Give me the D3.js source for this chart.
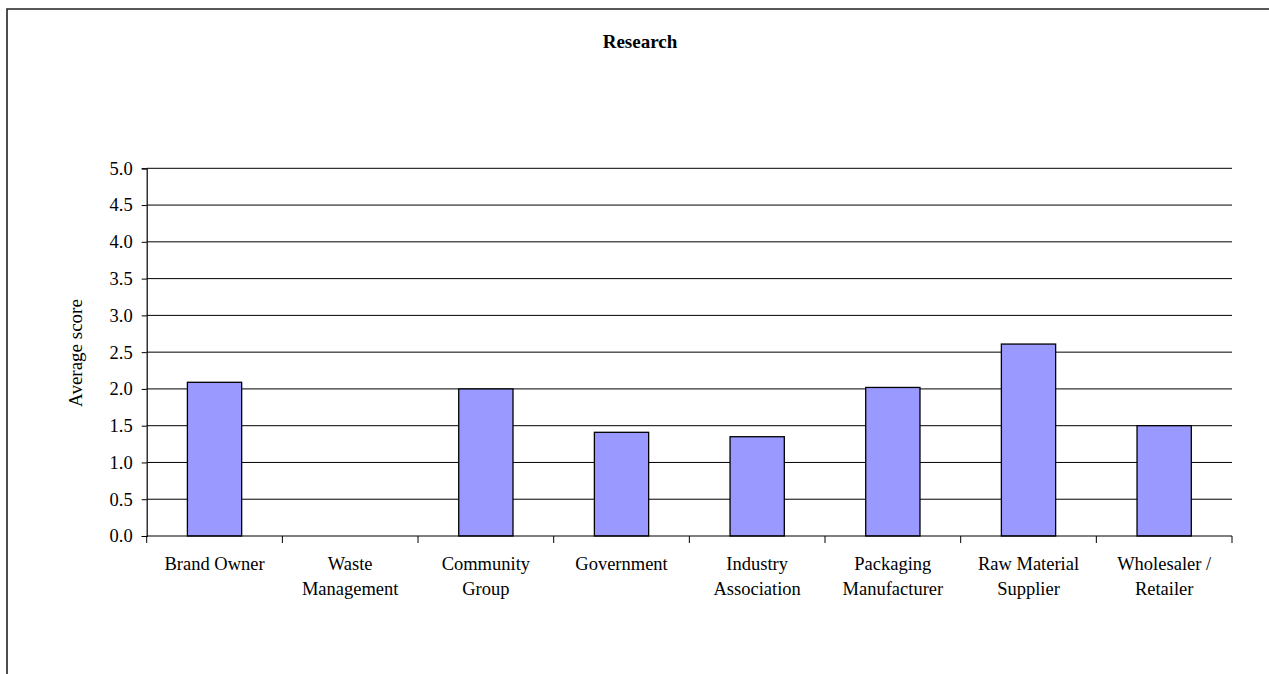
<!DOCTYPE html>
<html>
<head>
<meta charset="utf-8">
<script src="https://cdn.jsdelivr.net/npm/d3@7"></script>
<style>
  html, body { margin: 0; padding: 0; background: #fff; }
  svg { display: block; }
  text { font-family: "Liberation Serif", "Times New Roman", serif; fill: #000; }
</style>
</head>
<body>
<script>
// Average score per stakeholder group for "Research"
const categories = [
  "Brand Owner", "Waste Management", "Community Group", "Government",
  "Industry Association", "Packaging Manufacturer", "Raw Material Supplier",
  "Wholesaler / Retailer"
];
const categoryLines = [
  ["Brand Owner"], ["Waste", "Management"], ["Community", "Group"], ["Government"],
  ["Industry", "Association"], ["Packaging", "Manufacturer"], ["Raw Material", "Supplier"],
  ["Wholesaler /", "Retailer"]
];
const scores = [2.09, 0, 2.0, 1.41, 1.35, 2.02, 2.61, 1.5];
const yTicks = [0, 0.5, 1, 1.5, 2, 2.5, 3, 3.5, 4, 4.5, 5];

const W = 1269, H = 674;
const plot = { left: 146.7, right: 1232, top: 168.3, bottom: 536 };

const svg = d3.select("body").append("svg")
  .attr("width", W).attr("height", H);

// chart frame (left and top edges visible in the window)
svg.append("path")
  .attr("d", `M7,${H + 2} V9 H${W + 2}`)
  .attr("fill", "none").attr("stroke", "#222").attr("stroke-width", 1.6);

const x = d3.scaleBand().domain(categories).range([plot.left, plot.right]).padding(0);
const y = d3.scaleLinear().domain([0, 5]).range([plot.bottom, plot.top]);

// horizontal gridlines
svg.append("g").selectAll("line").data(yTicks.filter(d => d > 0)).join("line")
  .attr("x1", plot.left).attr("x2", plot.right)
  .attr("y1", d => y(d)).attr("y2", d => y(d))
  .attr("stroke", "#000").attr("stroke-width", 1);

// bars: Excel-style gap width of 150%
const barW = x.bandwidth() / 2.5;
svg.append("g").selectAll("rect").data(categories.map((c, i) => ({ c, v: scores[i] })).filter(d => d.v > 0))
  .join("rect")
  .attr("x", d => x(d.c) + (x.bandwidth() - barW) / 2)
  .attr("width", barW)
  .attr("y", d => y(d.v))
  .attr("height", d => y(0) - y(d.v))
  .attr("fill", "#9999FF")
  .attr("stroke", "#000").attr("stroke-width", 1.3);

// y axis
const yAxis = svg.append("g")
  .attr("transform", `translate(${plot.left},0)`)
  .call(d3.axisLeft(y).tickValues(yTicks).tickFormat(d3.format(".1f")).tickSize(5).tickPadding(9));
yAxis.select(".domain").attr("stroke", "#000").attr("stroke-width", 1.2);
yAxis.selectAll(".tick line").attr("stroke", "#000");
yAxis.selectAll(".tick text")
  .style("font-family", "'Liberation Serif', 'Times New Roman', serif")
  .style("font-size", "18.5px").attr("fill", "#000");

// x axis with ticks at category boundaries
const xAxisG = svg.append("g").attr("transform", `translate(0,${plot.bottom})`);
xAxisG.append("line")
  .attr("x1", plot.left).attr("x2", plot.right)
  .attr("stroke", "#000").attr("stroke-width", 1.2);
const boundaries = categories.map(c => x(c)).concat([x(categories[categories.length - 1]) + x.bandwidth()]);
xAxisG.selectAll("line.tick").data(boundaries).join("line")
  .attr("class", "tick")
  .attr("x1", d => d).attr("x2", d => d)
  .attr("y1", 0).attr("y2", 7)
  .attr("stroke", "#000").attr("stroke-width", 1);

// category labels
const labels = xAxisG.selectAll("text.cat").data(categories).join("text")
  .attr("class", "cat")
  .attr("text-anchor", "middle")
  .style("font-size", "18.5px");
labels.each(function (c, i) {
  const t = d3.select(this);
  categoryLines[i].forEach((line, k) => {
    t.append("tspan")
      .attr("x", x(c) + x.bandwidth() / 2)
      .attr("y", 34 + k * 24.5)
      .text(line);
  });
});

// y axis title
svg.append("text")
  .attr("transform", `translate(82,353) rotate(-90)`)
  .attr("text-anchor", "middle")
  .style("font-size", "19px")
  .text("Average score");

// chart title
svg.append("text")
  .attr("x", 640).attr("y", 47.5)
  .attr("text-anchor", "middle")
  .style("font-size", "19px").style("font-weight", "bold")
  .text("Research");
</script>
</body>
</html>
